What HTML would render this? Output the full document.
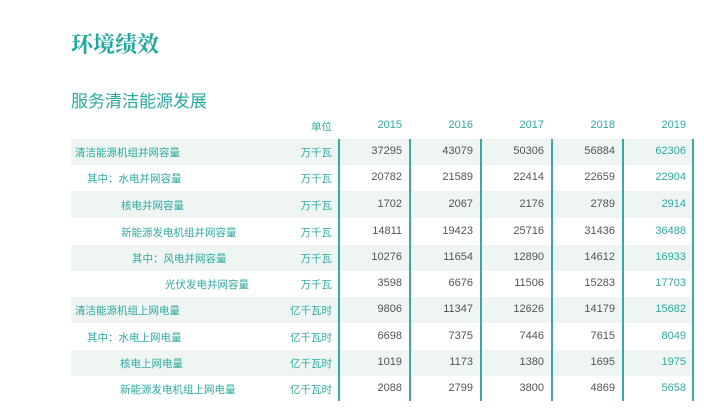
<!DOCTYPE html>
<html><head><meta charset="utf-8"><style>
body{margin:0;width:704px;height:413px;background:#fff;position:relative;overflow:hidden;font-family:"Liberation Sans","Noto Sans CJK SC",sans-serif;}
.t{position:absolute;white-space:nowrap;}
#title{left:71px;top:28px;font-family:"Liberation Serif","Noto Serif CJK SC",serif;font-weight:bold;font-size:22px;color:#1fa89e;}
#sub{left:71px;top:87px;font-size:17px;color:#2aa8a0;}
.shade{position:absolute;left:71px;width:623px;background:#eef5f3;}
.vl{position:absolute;top:139px;height:262px;width:1.5px;background:#3aa9a2;}
.lab{font-size:10.5px;color:#2fa9a1;}
.num{font-size:11px;color:#555;text-align:right;width:60px;}
.hd{font-size:10.5px;color:#2fa9a1;text-align:right;width:60px;}
.yr{font-size:11px;color:#2fa9a1;text-align:right;width:60px;}
</style></head><body>
<div id="title" class="t">环境绩效</div>
<div id="sub" class="t">服务清洁能源发展</div>
<div id="tbl"></div>
<script>
const years=["2015","2016","2017","2018","2019"];
const labels=["清洁能源机组并网容量","其中：水电并网容量","核电并网容量","新能源发电机组并网容量","其中：风电并网容量","光伏发电并网容量","清洁能源机组上网电量","其中：水电上网电量","核电上网电量","新能源发电机组上网电量"];
const units=["万千瓦","万千瓦","万千瓦","万千瓦","万千瓦","万千瓦","亿千瓦时","亿千瓦时","亿千瓦时","亿千瓦时"];
const v2015=[37295,20782,1702,14811,10276,3598,9806,6698,1019,2088];
const v2016=[43079,21589,2067,19423,11654,6676,11347,7375,1173,2799];
const v2017=[50306,22414,2176,25716,12890,11506,12626,7446,1380,3800];
const v2018=[56884,22659,2789,31436,14612,15283,14179,7615,1695,4869];
const v2019=[62306,22904,2914,36488,16933,17703,15682,8049,1975,5658];
const series=[v2015,v2016,v2017,v2018,v2019];
const rowTop=[139,165,191,218,245,271,297,323,350,376];
const rowH=[26,26,27,27,26,26,26,27,26,25];
const labX=[75,87,121,121,132,165,75,87,120,120];
const colRight=[402,473,544,615,686];
const lines=[339,410,481,552,623,693];
const root=document.getElementById('tbl');
function add(cls,txt,l,t,extra){const d=document.createElement('div');d.className='t '+cls;d.textContent=txt;d.style.left=l+'px';d.style.top=t+'px';if(extra)d.style.color=extra;root.appendChild(d);return d;}
for(let i=0;i<labels.length;i++){
  if(i%2===0){const s=document.createElement('div');s.className='shade';s.style.top=rowTop[i]+'px';s.style.height=rowH[i]+'px';
  
  
  root.appendChild(s);}
}
lines.forEach(x=>{const l=document.createElement('div');l.className='vl';l.style.left=(x-1)+'px';


root.appendChild(l);});
const u=add('hd','单位',272,119);


years.forEach((y,j)=>{const h=add('yr',y,colRight[j]-60,119);

});
for(let i=0;i<labels.length;i++){
  const ty=rowTop[i]+rowH[i]/2-7;
  const a=add('lab',labels[i],labX[i],ty);
  
  
  const b=add('hd',units[i],272,ty);
  
  
  series.forEach((s,j)=>{const c=add('num',String(s[i]),colRight[j]-60,ty,j===4?'#2fa9a1':null);
  
  });
}
</script>
</body></html>
